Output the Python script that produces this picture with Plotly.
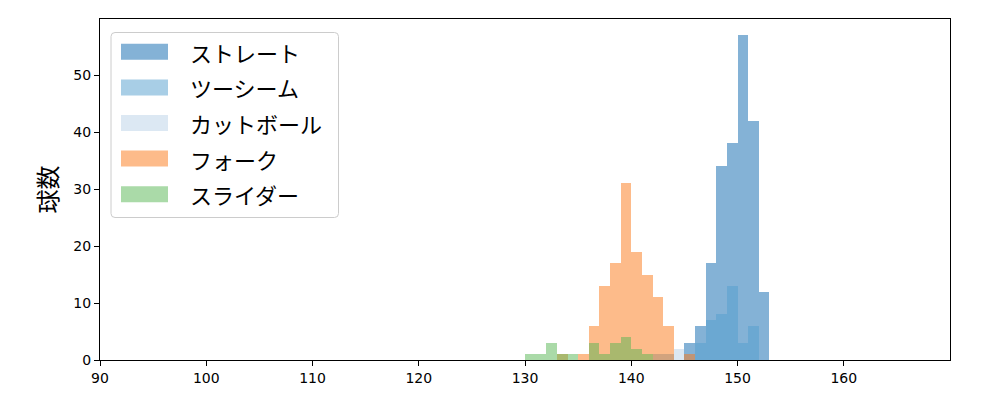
import plotly.graph_objects as go

# ---- data (bin lower edges, 1 km/h wide) ----
names = ["ストレート", "ツーシーム", "カットボール", "フォーク", "スライダー"]
colors = ["rgba(9,101,173,0.5)", "rgba(81,157,205,0.5)", "rgba(185,209,231,0.5)",
          "rgba(251,119,21,0.5)", "rgba(85,181,81,0.5)"]

straight_bins = [145, 146, 147, 148, 149, 150, 151, 152]
straight_counts = [3, 6, 17, 34, 38, 57, 42, 12]

twoseam_bins = [142, 143, 146, 147, 148, 149, 150, 151]
twoseam_counts = [1, 1, 3, 7, 8, 13, 3, 6]

cutter_bins = [144]
cutter_counts = [2]

fork_bins = [133, 135, 136, 137, 138, 139, 140, 141, 142, 143, 145]
fork_counts = [1, 1, 6, 13, 17, 31, 19, 15, 11, 6, 1]

slider_bins = [130, 131, 132, 133, 134, 136, 137, 138, 139, 140, 141]
slider_counts = [1, 1, 3, 1, 1, 3, 1, 3, 4, 2, 1]

x_ticks = [90, 100, 110, 120, 130, 140, 150, 160]
y_ticks = [0, 10, 20, 30, 40, 50]
bin_width = 1.0

series = [
    (straight_bins, straight_counts),
    (twoseam_bins, twoseam_counts),
    (cutter_bins, cutter_counts),
    (fork_bins, fork_counts),
    (slider_bins, slider_counts),
]

fig = go.Figure()
for name, color, (bins, counts) in zip(names, colors, series):
    fig.add_trace(go.Bar(
        x=[b + bin_width / 2 for b in bins], y=counts, width=bin_width,
        name=name, marker=dict(color=color, line=dict(width=0)),
        showlegend=False,
    ))

# page has an 8px body margin: figure origin sits at (8, 8) in the window
OFF = 8
W, H = 992, 392
PL, PR, PT, PB = 100, 950, 19, 360   # plot area in window pixels
L, R, T, B = PL - OFF, (OFF + W) - PR, PT - OFF, (OFF + H) - PB
pw, ph = PR - PL, PB - PT

def px(x):
    return (x - PL) / pw

def py(y):
    return (PB - y) / ph

shapes = []
annotations = []
# legend box (rounded)
x0, x1, y0, y1, r = 111, 338.5, 32.5, 217.5, 4
path = (f"M {px(x0+r)},{py(y0)} L {px(x1-r)},{py(y0)} Q {px(x1)},{py(y0)} {px(x1)},{py(y0+r)} "
        f"L {px(x1)},{py(y1-r)} Q {px(x1)},{py(y1)} {px(x1-r)},{py(y1)} "
        f"L {px(x0+r)},{py(y1)} Q {px(x0)},{py(y1)} {px(x0)},{py(y1-r)} "
        f"L {px(x0)},{py(y0+r)} Q {px(x0)},{py(y0)} {px(x0+r)},{py(y0)} Z")
shapes.append(dict(type="path", xref="paper", yref="paper", path=path,
                   fillcolor="rgba(255,255,255,0.8)", line=dict(color="#cccccc", width=1),
                   layer="above"))
row0, step = 51.8, 35.6
for i, (name, color) in enumerate(zip(names, colors)):
    cy = row0 + i * step
    shapes.append(dict(type="rect", xref="paper", yref="paper",
                       x0=px(121), x1=px(168), y0=py(cy + 8), y1=py(cy - 8),
                       fillcolor=color, line=dict(width=0), layer="above"))
    annotations.append(dict(xref="paper", yref="paper", x=px(188), y=py(cy),
                            text=name, showarrow=False, xanchor="left", yanchor="middle",
                            font=dict(size=22, color="#000000", family="Noto Sans CJK JP")))

fig.update_layout(
    width=W, height=H,
    margin=dict(l=L, r=R, t=T, b=B, pad=0),
    paper_bgcolor="white", plot_bgcolor="white",
    barmode="overlay", bargap=0,
    font=dict(family="Noto Sans CJK JP, DejaVu Sans", color="#000000"),
    shapes=shapes, annotations=annotations,
    showlegend=False,
    xaxis=dict(range=[90, 170], tickvals=x_ticks, ticks="outside", ticklen=5, tickwidth=1.1,
               tickcolor="#000", showline=True, linecolor="#000", linewidth=1.1, mirror=True,
               showgrid=False, zeroline=False, tickfont=dict(size=14, family="DejaVu Sans")),
    yaxis=dict(range=[0, 59.85], tickvals=y_ticks, ticks="outside", ticklen=5, tickwidth=1.1,
               tickcolor="#000", showline=True, linecolor="#000", linewidth=1.1, mirror=True,
               showgrid=False, zeroline=False, tickfont=dict(size=14, family="DejaVu Sans"),
               title=dict(text="球数", font=dict(size=24, family="Noto Sans CJK JP"), standoff=8)),
)

fig.write_html("out.html")
